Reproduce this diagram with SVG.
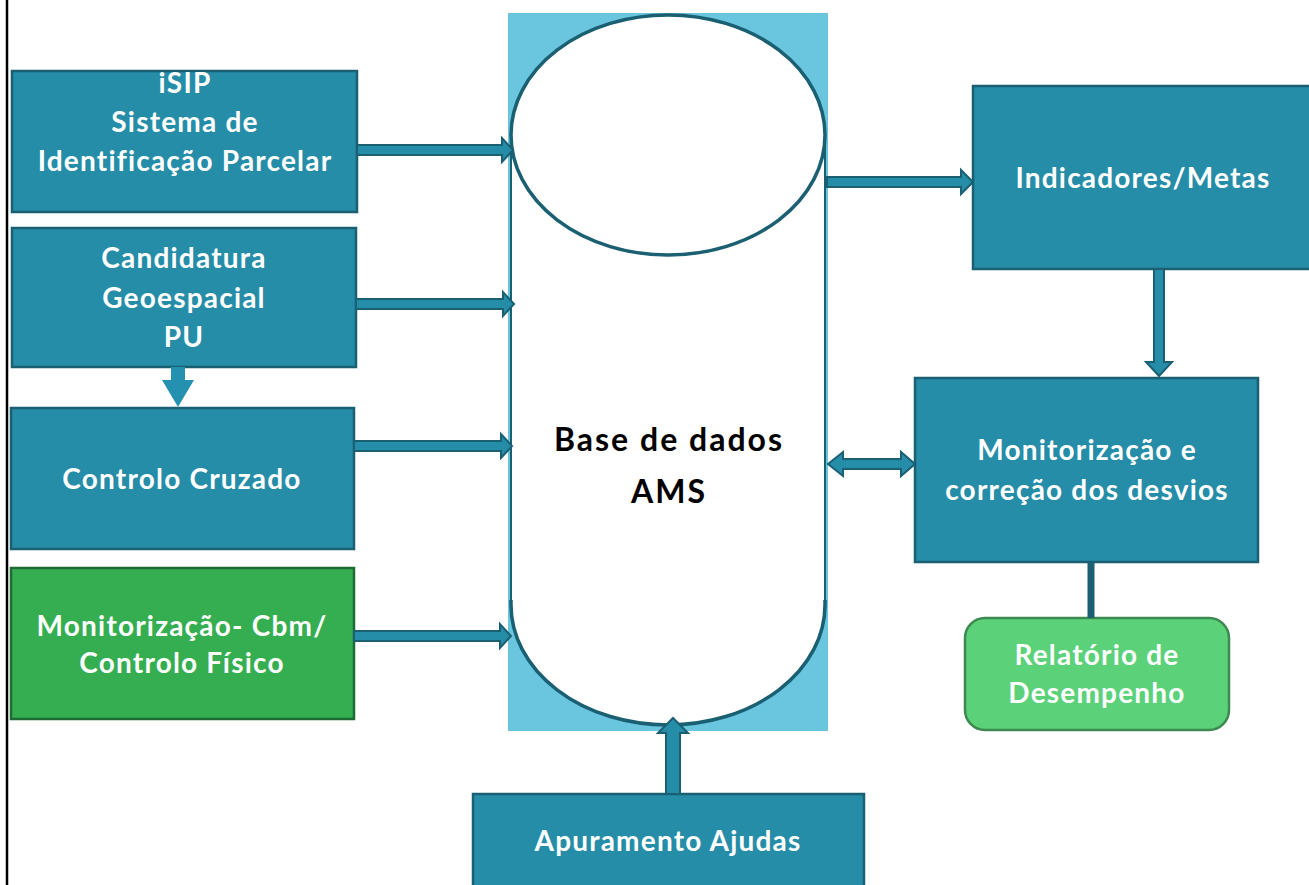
<svg xmlns="http://www.w3.org/2000/svg" width="1309" height="885" viewBox="0 0 1309 885">
<style>
.box{fill:#258da8;stroke:#1a5f72;stroke-width:2.5}
.green{fill:#34ae50;stroke:#1f6b35;stroke-width:2.5}
.lgreen{fill:#5bd17a;stroke:#3c8a50;stroke-width:2.5}
.t{font-family:Lato,"Liberation Sans",sans-serif;font-weight:700;font-size:28px;letter-spacing:1.2px;fill:#ffffff;text-anchor:middle}
.tb{font-family:Lato,"Liberation Sans",sans-serif;font-weight:700;font-size:32px;letter-spacing:2px;fill:#000000;text-anchor:middle}
.arr{fill:#258da8;stroke:#1a5f72;stroke-width:2;stroke-linejoin:miter}
</style>
<rect x="0" y="0" width="1309" height="885" fill="#ffffff"/>
<line x1="7" y1="0" x2="7" y2="885" stroke="#000" stroke-width="2.5"/>

<g id="db">
<rect x="508" y="13" width="320" height="718" fill="#6ac5df"/>
<path d="M511,135 L511,605 A157,120 0 0 0 825,605 L825,135 Z" fill="#ffffff" stroke="#1a5f72" stroke-width="2"/>
<path d="M511,600 L511,605 A157,120 0 0 0 825,605 L825,600" fill="none" stroke="#1a5f72" stroke-width="3.5"/>
<ellipse cx="668" cy="135" rx="157" ry="120" fill="#ffffff" stroke="#1a5f72" stroke-width="3.5"/>
<text class="tb" x="669" y="451">Base de dados</text>
<text class="tb" x="669" y="503">AMS</text>
</g>

<g id="isip">
<rect class="box" x="12" y="71" width="345" height="141"/>
<text class="t" x="185" y="93">iSIP</text>
<text class="t" x="185" y="132">Sistema de</text>
<text class="t" x="185" y="171">Identificação Parcelar</text>
</g>

<g id="candidatura">
<rect class="box" x="12" y="228" width="344" height="139"/>
<text class="t" x="184" y="268">Candidatura</text>
<text class="t" x="184" y="308">Geoespacial</text>
<text class="t" x="184" y="347">PU</text>
</g>

<g id="controlo">
<rect class="box" x="11" y="408" width="343" height="141"/>
<text class="t" x="182" y="489">Controlo Cruzado</text>
</g>

<g id="cbm">
<rect class="green" x="11" y="568" width="343" height="151"/>
<text class="t" x="182" y="636">Monitorização- Cbm/</text>
<text class="t" x="182" y="673">Controlo Físico</text>
</g>

<g id="indicadores">
<rect class="box" x="973" y="86" width="340" height="183"/>
<text class="t" x="1143" y="188">Indicadores/Metas</text>
</g>

<g id="monitorizacao">
<rect class="box" x="915" y="378" width="343" height="184"/>
<text class="t" x="1087" y="460">Monitorização e</text>
<text class="t" x="1087" y="500">correção dos desvios</text>
</g>

<g id="relatorio">
<rect class="lgreen" x="965" y="618" width="264" height="112" rx="20" ry="20"/>
<text class="t" x="1097" y="665">Relatório de</text>
<text class="t" x="1097" y="703">Desempenho</text>
</g>

<g id="apuramento">
<rect class="box" x="473" y="794" width="391" height="100"/>
<text class="t" x="668" y="851">Apuramento Ajudas</text>
</g>

<g id="connectors">
<polygon class="arr" points="357,145 502,145 502,138 513,150 502,162 502,155 357,155"/>
<polygon class="arr" points="356,299 503,299 503,292 514,304 503,316 503,309 356,309"/>
<polygon class="arr" points="354,441 501,441 501,434 512,446 501,458 501,451 354,451"/>
<polygon class="arr" points="354,631 500,631 500,624 511,636 500,648 500,641 354,641"/>
<polygon class="arr" points="827,177 961,177 961,170 973,182 961,194 961,187 827,187"/>
<polygon class="arr" points="828,464 843,452 843,459 901,459 901,452 915,464 901,476 901,469 843,469 843,476"/>
<polygon class="arr" points="1154,269 1164,269 1164,362 1172,362 1159,376 1146,362 1154,362"/>
<polygon points="171,367 185,367 185,380 194,380 178,407 162,380 171,380" fill="#2591b0"/>
<polygon class="arr" points="666,794 680,794 680,733 688,733 673,718 658,733 666,733"/>
<line x1="1091" y1="562" x2="1091" y2="618" stroke="#1a5f72" stroke-width="7"/>
</g>
</svg>
